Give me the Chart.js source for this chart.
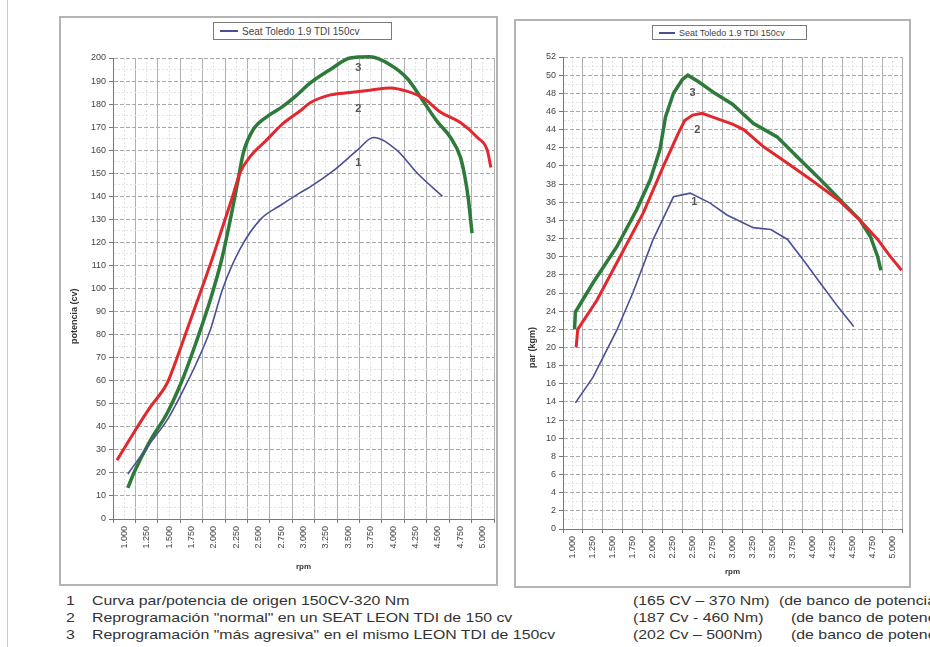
<!DOCTYPE html>
<html>
<head>
<meta charset="utf-8">
<script src="https://cdn.jsdelivr.net/npm/chart.js@4.4.1/dist/chart.umd.min.js"></script>
<style>
  body { margin: 0; width: 930px; height: 647px; overflow: hidden; background: #fff; position: relative; font-family: "Liberation Sans", Arial, sans-serif; }
  .frame { position: absolute; box-sizing: border-box; border: 2px solid #b4b4b4; }
  .frame canvas { position: absolute; left: 0; top: 0; }
  .legend { position: absolute; box-sizing: border-box; border: 1px solid #7a7a7a; background: #fff; display: flex; align-items: center; color: #444; white-space: nowrap; }
  .legend i { display: inline-block; height: 2px; background: #4a4f96; margin: 0 4px 0 6px; }
  .note { position: absolute; font-size: 13px; color: #333; white-space: nowrap; transform-origin: left center; transform: scaleX(1.22); }
  #edge { position: absolute; left: 7px; top: 0; width: 1px; height: 647px; background: #c8c8c8; }
</style>
</head>
<body>
<div id="edge"></div>

<div class="frame" style="left:59px; top:16px; width:439px; height:570px;">
  <canvas id="powerChart" width="435" height="566"></canvas>
</div>
<div class="legend" style="left:213px; top:22px; width:179px; height:18px; font-size:10px;"><i style="width:18px"></i>Seat Toledo 1.9 TDI 150cv</div>

<div class="frame" style="left:514px; top:19px; width:397px; height:569px;">
  <canvas id="torqueChart" width="393" height="565"></canvas>
</div>
<div class="legend" style="left:652px; top:25px; width:155px; height:15px; font-size:9px;"><i style="width:16px"></i>Seat Toledo 1.9 TDI 150cv</div>

<div class="note" style="left:66px; top:593px;">1</div>
<div class="note" style="left:92px; top:593px;">Curva par/potencia de origen 150CV-320 Nm</div>
<div class="note" style="left:66px; top:610px;">2</div>
<div class="note" style="left:92px; top:610px;">Reprogramación "normal" en un SEAT LEON TDI de 150 cv</div>
<div class="note" style="left:66px; top:627px;">3</div>
<div class="note" style="left:92px; top:627px;">Reprogramación "más agresiva" en el mismo LEON TDI de 150cv</div>
<div class="note" style="left:633px; top:593px;">(165 CV – 370 Nm)</div>
<div class="note" style="left:779px; top:593px;">(de banco de potencia)</div>
<div class="note" style="left:633px; top:610px;">(187 Cv - 460 Nm)</div>
<div class="note" style="left:791px; top:610px;">(de banco de potencia)</div>
<div class="note" style="left:633px; top:627px;">(202 Cv – 500Nm)</div>
<div class="note" style="left:791px; top:627px;">(de banco de potencia)</div>

<script>
// x axis (rpm)
const rpmTicks = [1000, 1250, 1500, 1750, 2000, 2250, 2500, 2750, 3000, 3250, 3500, 3750, 4000, 4250, 4500, 4750, 5000];
const rpmLabels = ['1.000', '1.250', '1.500', '1.750', '2.000', '2.250', '2.500', '2.750', '3.000',
  '3.250', '3.500', '3.750', '4.000', '4.250', '4.500', '4.750', '5.000'];

// y ticks
const powerTicks = [0, 10, 20, 30, 40, 50, 60, 70, 80, 90, 100, 110, 120, 130, 140, 150, 160, 170, 180, 190, 200];
const torqueTicks = [0, 2, 4, 6, 8, 10, 12, 14, 16, 18, 20, 22, 24, 26, 28, 30, 32, 34, 36, 38, 40, 42, 44, 46, 48, 50, 52];

// potencia (cv)
const powerRpm1 = [1040, 1290, 1480, 1660, 1810, 1960, 2100, 2290, 2520, 2740, 2960, 3070, 3330, 3600, 3780, 4040, 4270, 4550];
const powerCv1 = [19.5, 33, 43, 56, 68, 82, 100, 117, 130, 136, 141.5, 144, 151, 160, 165.5, 160, 150, 140];
const powerRpm2 = [920, 1100, 1290, 1480, 1590, 1700, 1810, 1920, 2000, 2100, 2210, 2290, 2400, 2590, 2770, 2960,
  3070, 3300, 3520, 3740, 3970, 4160, 4340, 4530, 4750, 4940, 5050, 5090];
const powerCv2 = [25.5, 37, 48.5, 59, 70, 82, 94, 106, 115, 127, 140, 150, 157, 164.5, 171.5, 177,
  180.5, 184, 185, 186, 187, 185.5, 182.5, 176.5, 172, 165.5, 160, 152.5];
const powerRpm3 = [1040, 1120, 1290, 1480, 1660, 1810, 1960, 2090, 2200, 2270, 2330, 2440, 2590, 2770, 2900, 3070,
  3300, 3520, 3740, 3970, 4160, 4340, 4490, 4640, 4750, 4800, 4840, 4880];
const powerCv3 = [13.5, 21, 34, 46, 61.5, 77.5, 95, 113, 133, 147, 159, 169, 174.5, 179, 183, 189,
  195, 200, 200.5, 197, 191, 181, 172.5, 165.5, 157, 148.5, 138.5, 124];

// par (kgm)
const torqueRpm1 = [1030, 1250, 1550, 1750, 2000, 2260, 2470, 2720, 2930, 3260, 3480, 3690, 3890, 4100, 4320, 4520];
const torqueKgm1 = [13.9, 16.7, 21.9, 26, 31.8, 36.6, 37, 35.9, 34.6, 33.2, 33, 31.9, 29.6, 27.1, 24.5, 22.3];
const torqueRpm2 = [1040, 1060, 1300, 1590, 1880, 2130, 2310, 2400, 2500, 2620, 2780, 3000, 3140, 3390, 3690, 3980,
  4320, 4600, 4820, 4980, 5120];
const torqueKgm2 = [20, 22, 25.2, 30, 34.8, 39.9, 43.4, 45, 45.6, 45.8, 45.3, 44.6, 44, 42.1, 40.3, 38.5,
  36.3, 34, 31.9, 30, 28.5];
const torqueRpm3 = [1020, 1030, 1250, 1550, 1800, 1970, 2090, 2160, 2260, 2370, 2440, 2570, 2780, 3000, 3260, 3560,
  3810, 4100, 4390, 4600, 4730, 4820, 4860];
const torqueKgm3 = [22, 23.9, 27.1, 31.1, 35.2, 38.5, 41.8, 45.4, 48, 49.5, 50, 49.3, 48, 46.8, 44.7, 43.2,
  41, 38.5, 35.9, 34, 32.2, 30, 28.5];

// curve numbers
const tagText = ['1', '2', '3'];
const powerTagRpm = [3610, 3610, 3610];
const powerTagCv = [154.5, 178, 195.5];
const torqueTagRpm = [2520, 2560, 2500];
const torqueTagKgm = [36, 44, 48];

const toPoints = (xs, ys) => xs.map((v, i) => ({ x: v, y: ys[i] }));

const halfStep = (rpmTicks[1] - rpmTicks[0]) / 2;
const rpmGrid = [rpmTicks[0] - halfStep];
rpmTicks.forEach((v) => rpmGrid.push(v, v + halfStep));
const isCategoryEdge = (v) => rpmGrid.indexOf(v) % 2 === 0;

const minorSteps = (ticks) => {
  const out = [];
  ticks.forEach((v, i) => {
    out.push(v);
    if (i < ticks.length - 1) out.push((v + ticks[i + 1]) / 2);
  });
  return out;
};

const tickFont = { family: 'Liberation Sans', size: 9 };

const curveTags = {
  id: 'curveTags',
  afterDatasetsDraw(chart, args, opts) {
    const { ctx, scales: { x, y }, chartArea } = chart;
    ctx.save();
    ctx.fillStyle = '#555';
    ctx.textAlign = 'center';
    ctx.textBaseline = 'middle';
    ctx.font = 'bold 11px "Liberation Sans"';
    opts.tagX.forEach((v, i) => {
      ctx.fillText(tagText[i], x.getPixelForValue(v), y.getPixelForValue(opts.tagY[i]));
    });
    // y axis title
    ctx.font = 'bold 9px "Liberation Sans"';
    ctx.translate(chartArea.left - opts.titleOffset, y.getPixelForValue(opts.titleAt));
    ctx.rotate(-Math.PI / 2);
    ctx.fillStyle = '#333';
    ctx.fillText(opts.title, 0, 0);
    ctx.restore();
  },
};

function buildChart(id, series, yTicks, yWidth, xHeight, pad, xTitlePad, smooth, tags) {
  const yGrid = minorSteps(yTicks);
  return new Chart(document.getElementById(id), {
    type: 'line',
    data: {
      datasets: series.map((s) => ({
        label: s.label,
        data: s.data,
        borderColor: s.color,
        borderWidth: s.width,
        pointRadius: 0,
        cubicInterpolationMode: smooth ? 'monotone' : 'default',
        tension: 0,
        clip: 6,
        fill: false,
      })),
    },
    options: {
      responsive: false,
      animation: false,
      layout: { padding: pad },
      plugins: {
        legend: { display: false },
        tooltip: { enabled: false },
        curveTags: tags,
      },
      scales: {
        x: {
          type: 'linear',
          min: rpmGrid[0],
          max: rpmGrid[rpmGrid.length - 1],
          afterBuildTicks: (s) => { s.ticks = rpmGrid.map((v) => ({ value: v })); },
          afterFit: (s) => {
            s.height = xHeight;
            s.paddingLeft = 0;
            s.paddingRight = 0;
          },
          ticks: {
            autoSkip: false,
            minRotation: 90,
            maxRotation: 90,
            padding: 3,
            color: '#444',
            font: tickFont,
            callback: (v) => {
              const i = rpmTicks.indexOf(v);
              return i < 0 ? '' : rpmLabels[i];
            },
          },
          grid: {
            color: (c) => (c.tick && isCategoryEdge(c.tick.value) ? '#b0b0b0' : '#e2e2e2'),
            tickColor: (c) => (c.tick && isCategoryEdge(c.tick.value) ? '#777' : 'rgba(0,0,0,0)'),
            tickLength: 4,
          },
          border: { color: '#7a7a7a', dash: (c) => (c.tick && !isCategoryEdge(c.tick.value) ? [2, 2] : []) },
          title: {
            display: true,
            text: 'rpm',
            color: '#333',
            font: { family: 'Liberation Sans', size: 8, weight: 'bold' },
            padding: { top: 0, bottom: xTitlePad },
          },
        },
        y: {
          min: yTicks[0],
          max: yTicks[yTicks.length - 1],
          afterBuildTicks: (s) => { s.ticks = yGrid.map((v) => ({ value: v })); },
          afterFit: (s) => { s.width = yWidth; },
          ticks: {
            autoSkip: false,
            padding: 3,
            color: '#444',
            font: tickFont,
            callback: (v) => (yTicks.includes(v) ? v : ''),
          },
          grid: {
            color: (c) => (c.tick && yTicks.includes(c.tick.value) ? '#a8a8a8' : '#e4e4e4'),
            tickColor: (c) => (c.tick && yTicks.includes(c.tick.value) ? '#777' : 'rgba(0,0,0,0)'),
            tickLength: 4,
          },
          border: { color: '#7a7a7a', dash: (c) => (c.tick && !yTicks.includes(c.tick.value) ? [2, 2] : [4, 2]) },
        },
      },
    },
    plugins: [curveTags],
  });
}

buildChart('powerChart', [
  { label: 'Seat Toledo 1.9 TDI 150cv', data: toPoints(powerRpm1, powerCv1), color: '#4a4f96', width: 1.6 },
  { label: '2', data: toPoints(powerRpm2, powerCv2), color: '#e2282f', width: 3 },
  { label: '3', data: toPoints(powerRpm3, powerCv3), color: '#2e7a3a', width: 3.5 },
], powerTicks, 52, 65, { top: 40, right: 2, left: 0, bottom: 0 }, 12, true,
{ tagX: powerTagRpm, tagY: powerTagCv, title: 'potencia (cv)', titleAt: 88, titleOffset: 38 });

buildChart('torqueChart', [
  { label: 'Seat Toledo 1.9 TDI 150cv', data: toPoints(torqueRpm1, torqueKgm1), color: '#4a4f96', width: 1.6 },
  { label: '2', data: toPoints(torqueRpm2, torqueKgm2), color: '#e2282f', width: 3 },
  { label: '3', data: toPoints(torqueRpm3, torqueKgm3), color: '#2e7a3a', width: 3.5 },
], torqueTicks, 47, 57, { top: 36, right: 7, left: 0, bottom: 0 }, 9, false,
{ tagX: torqueTagRpm, tagY: torqueTagKgm, title: 'par (kgm)', titleAt: 20, titleOffset: 30 });
</script>
</body>
</html>
